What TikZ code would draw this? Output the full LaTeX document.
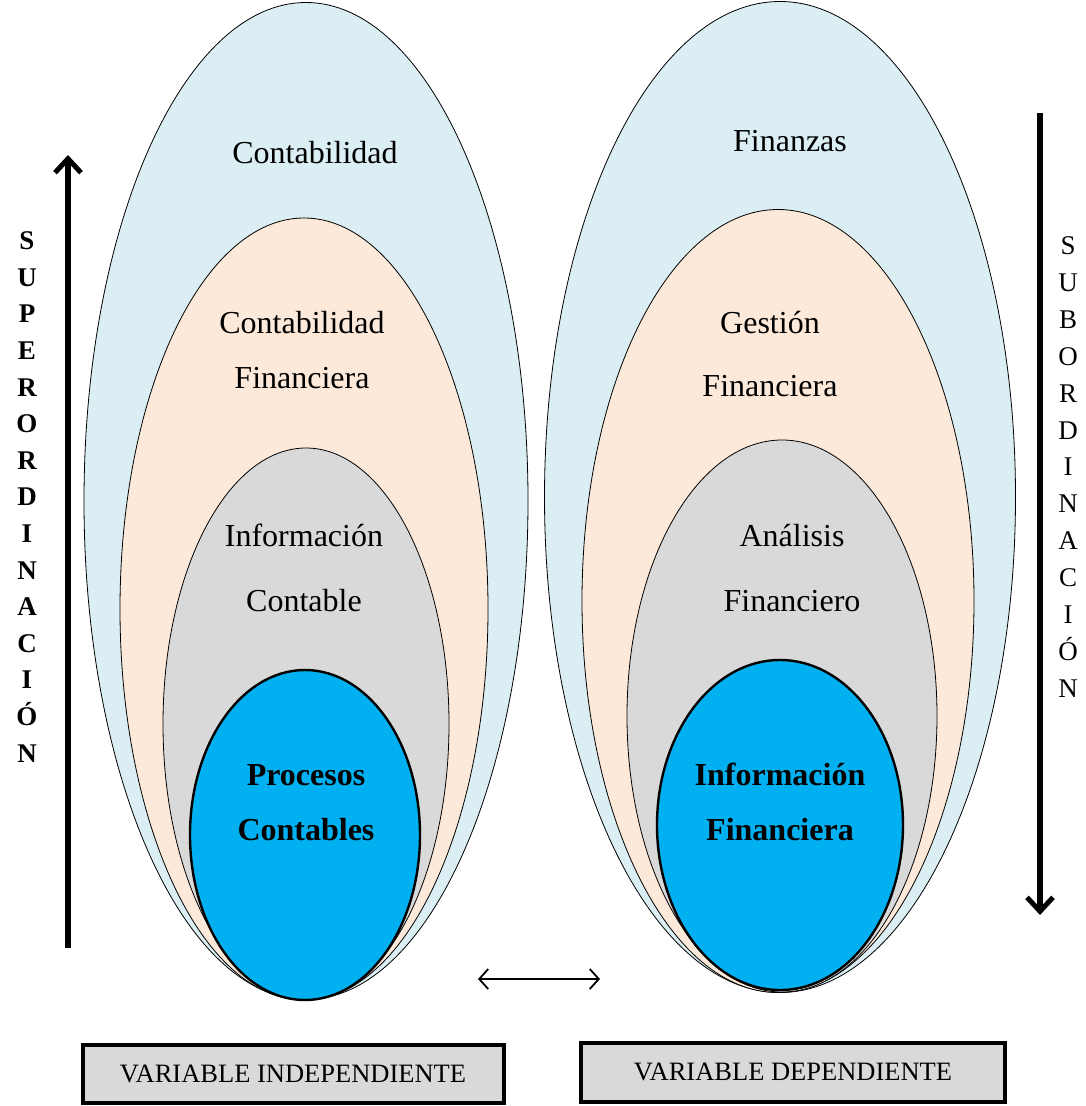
\documentclass[tikz,border=0pt]{standalone}
\usepackage{fontspec}
\setmainfont{Liberation Serif}
\usetikzlibrary{shapes.geometric,arrows.meta}
\definecolor{skyfill}{HTML}{DAEEF3}
\definecolor{peachfill}{HTML}{FDE9D9}
\definecolor{grayfill}{HTML}{D9D9D9}
\definecolor{corefill}{HTML}{00B0F0}
\begin{document}
\begin{tikzpicture}[x=1pt,y=-1pt,
  oval/.style={ellipse, draw=black, line width=0.8pt, inner sep=0pt, outer sep=0pt},
  coreoval/.style={oval, fill=corefill, line width=2.4pt},
  lbl/.style={align=center, inner sep=0pt, font=\fontsize{32}{55}\selectfont},
  corelbl/.style={lbl, font=\fontsize{32}{55}\selectfont\bfseries},
  varbox/.style={draw=black, line width=4pt, fill=grayfill, inner sep=0pt,
    font=\fontsize{26.5}{30}\selectfont},
  bigarrow/.style={line width=5.5pt, -{Straight Barb[length=14pt,width=26pt,line width=5pt]}},
  thinarrow/.style={line width=1.8pt, {Straight Barb[length=9pt,width=20pt]}-{Straight Barb[length=9pt,width=20pt]}}
]
\useasboundingbox (0,0) rectangle (1086,1106);

% left family of nested ellipses
\node[oval, fill=skyfill,   minimum width=444pt, minimum height=997pt] (accOuter) at (306,501) {};
\node[oval, fill=peachfill, minimum width=368pt, minimum height=782pt] (accFin)   at (304,609) {};
\node[oval, fill=grayfill,  minimum width=286pt, minimum height=552pt] (accInfo)  at (306,724) {};
\node[coreoval, minimum width=230pt, minimum height=330pt] (accProc) at (305,835) {};

% right family of nested ellipses
\node[oval, fill=skyfill,   minimum width=471pt, minimum height=991pt] (finOuter) at (780,497) {};
\node[oval, fill=peachfill, minimum width=392pt, minimum height=783pt] (finGest)  at (778,601) {};
\node[oval, fill=grayfill,  minimum width=310pt, minimum height=552pt] (finAnal)  at (782,716) {};
\node[coreoval, minimum width=246pt, minimum height=330pt] (finInfo) at (780,825) {};

% labels, left
\node[lbl] (tContab) at (315,153) {Contabilidad};
\node[lbl] (tContabFin) at (302,350) {Contabilidad\\Financiera};
\node[lbl, font=\fontsize{32}{65}\selectfont] (tInfoCont) at (304,568) {Información\\Contable};
\node[corelbl] (tProc) at (306,803) {Procesos\\Contables};

% labels, right
\node[lbl] (tFinanzas) at (790,141) {Finanzas};
\node[lbl, font=\fontsize{32}{63}\selectfont] (tGest) at (770,354) {Gestión\\Financiera};
\node[lbl, font=\fontsize{32}{65}\selectfont] (tAnal) at (792,568) {Análisis\\Financiero};
\node[corelbl] (tInfoFin) at (780,802) {Información\\Financiera};

% vertical direction arrows
\coordinate (supBot) at (68,948);
\coordinate (supTop) at (68,155);
\draw[bigarrow] (supBot) -- (supTop);
\coordinate (subTop) at (1040,113);
\coordinate (subBot) at (1040,915);
\draw[bigarrow] (subTop) -- (subBot);

% vertical words
\node[align=center, inner sep=0pt, font=\fontsize{27}{36.6}\selectfont\bfseries] (wSup) at (27,497)
  {S\\U\\P\\E\\R\\O\\R\\D\\I\\N\\A\\C\\I\\Ó\\N};
\node[align=center, inner sep=0pt, font=\fontsize{27}{36.9}\selectfont] (wSub) at (1068,467)
  {S\\U\\B\\O\\R\\D\\I\\N\\A\\C\\I\\Ó\\N};

% link between the two families
\coordinate (linkL) at (478,979);
\coordinate (linkR) at (600,979);
\draw[thinarrow] (linkL) -- (linkR);

% variable boxes
\node[varbox, minimum width=421pt, minimum height=58pt] (boxInd) at (293,1074) {VARIABLE INDEPENDIENTE};
\node[varbox, minimum width=424pt, minimum height=59pt] (boxDep) at (793,1072) {VARIABLE DEPENDIENTE};
\end{tikzpicture}
\end{document}
